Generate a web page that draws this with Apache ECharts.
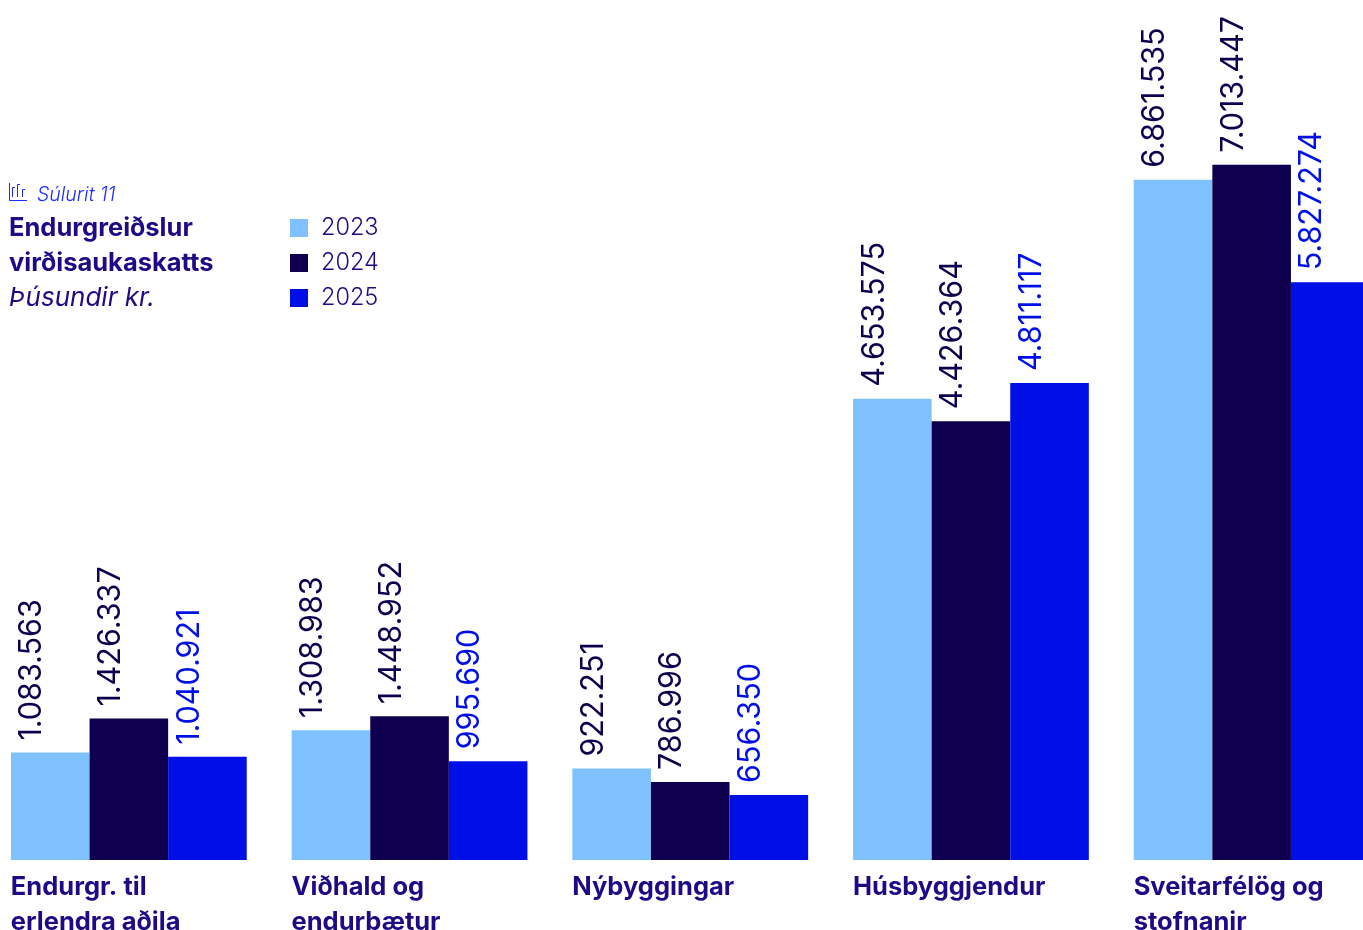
<!DOCTYPE html>
<html><head><meta charset="utf-8">
<style>html,body{margin:0;padding:0;background:#fff;overflow:hidden}#c{width:1363px;height:930px}</style>
<script src="https://cdn.jsdelivr.net/npm/echarts@6/dist/echarts.min.js"></script></head>
<body><div id="c"></div>
<script>
const categories=['Endurgr. til\nerlendra aðila','Viðhald og\nendurbætur','Nýbyggingar','Húsbyggjendur','Sveitarfélög og\nstofnanir'];
const v2023=[1083563,1308983,922251,4653575,6861535];
const v2024=[1426337,1448952,786996,4426364,7013447];
const v2025=[1040921,995690,656350,4811117,5827274];
const FONT='Inter';
const TXT='#1d0a85',DARK='#0f004f',BLUE='#000fe6',LIGHT='#7fc1ff';
const chart=echarts.init(document.getElementById('c'),null,{renderer:'canvas'});
const fmt=p=>String(p.value).replace(/\B(?=(\d{3})+$)/g,'.');
function ser(name,data,color,lc){return {name,type:'bar',data,barGap:'0%',barCategoryGap:'16%',
 itemStyle:{color},
 label:{show:true,position:'top',rotate:90,align:'left',verticalAlign:'middle',offset:[12,-18],distance:0,
 formatter:fmt,color:lc,fontFamily:FONT,fontSize:30.5,fontWeight:400},animation:false};}
chart.setOption({animation:false,backgroundColor:'#fff',
 grid:{left:-11.5,right:-29,top:67,bottom:70,containLabel:false,outerBoundsMode:'none'},
 xAxis:{type:'category',data:categories,axisLine:{show:false},axisTick:{show:false},
  axisLabel:{interval:0,margin:10,align:'center',verticalAlign:'top',hideOverlap:false,
   formatter:v=>v.split('\n').map(s=>'{a|'+s+'}').join('\n'),
   rich:{a:{width:236,align:'left',fontFamily:FONT,fontWeight:700,fontSize:25.5,lineHeight:35,color:TXT}}}},
 yAxis:{type:'value',min:0,max:8000000,show:false},
 legend:{left:290,top:216,padding:0,orient:'vertical',itemWidth:18,itemHeight:18,itemGap:11,icon:'rect',
  data:['2023','2024','2025'],textStyle:{color:TXT,fontFamily:FONT,fontSize:23.5,fontWeight:300,padding:[0,0,0,8]}},
 title:[
  {text:'Súlurit 11',left:37,top:185,padding:0,textStyle:{color:'#1a2cff',fontFamily:FONT,fontStyle:'italic',fontWeight:300,fontSize:19.5}},
  {text:'Endurgreiðslur',left:9,top:215,padding:0,textStyle:{color:TXT,fontFamily:FONT,fontWeight:700,fontSize:25.5}},
  {text:'virðisaukaskatts',left:9,top:250,padding:0,textStyle:{color:TXT,fontFamily:FONT,fontWeight:700,fontSize:25.5}},
  {text:'Þúsundir kr.',left:9,top:285,padding:0,textStyle:{color:TXT,fontFamily:FONT,fontStyle:'italic',fontWeight:400,fontSize:26}}
 ],
 graphic:[{type:'polyline',shape:{points:[[9.5,183],[9.5,200.5],[27,200.5]]},style:{stroke:'#1a2cff',fill:null,lineWidth:1}},
  {type:'polyline',shape:{points:[[12.5,197],[12.5,187.5],[15,187.5]]},style:{stroke:'#1a2cff',fill:null,lineWidth:1}},
  {type:'polyline',shape:{points:[[17.5,197],[17.5,184.5],[20,184.5]]},style:{stroke:'#1a2cff',fill:null,lineWidth:1}},
  {type:'polyline',shape:{points:[[22.5,197],[22.5,189.5],[25,189.5]]},style:{stroke:'#1a2cff',fill:null,lineWidth:1}}],
 series:[ser('2023',v2023,LIGHT,DARK),ser('2024',v2024,DARK,DARK),ser('2025',v2025,BLUE,BLUE)]
});
</script></body></html>
